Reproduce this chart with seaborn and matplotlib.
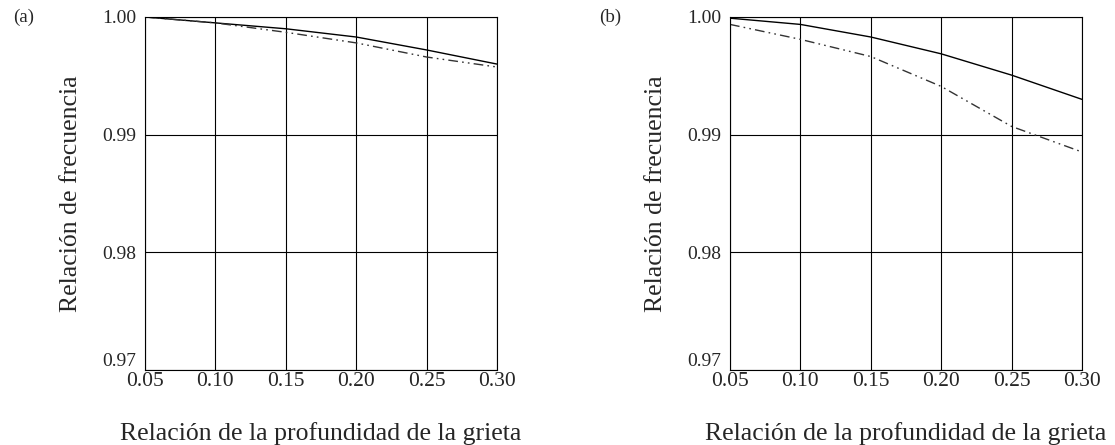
import matplotlib
matplotlib.use("Agg")
import matplotlib.pyplot as plt
import seaborn as sns
import pandas as pd

depth = [0.05, 0.10, 0.15, 0.20, 0.25, 0.30]
a_solid = [1.0000, 0.9995, 0.9990, 0.9983, 0.9972, 0.9960]
a_dash = [1.0000, 0.9995, 0.9987, 0.9978, 0.9966, 0.99575]
b_solid = [0.9999, 0.99937, 0.9983, 0.99687, 0.99506, 0.9930]
b_dash = [0.99937, 0.9981, 0.99664, 0.9941, 0.9907, 0.98853]

yticks = [0.97, 0.98, 0.99, 1.00]
xticks = [0.05, 0.10, 0.15, 0.20, 0.25, 0.30]
panel_labels = ["(a)", "(b)"]
xlabel = "Relación de la profundidad de la grieta"
ylabel = "Relación de frecuencia"

sns.set_style("white")
plt.rcParams['font.family'] = ['Liberation Serif', 'DejaVu Serif']

fig = plt.figure(figsize=(11.15, 4.45), dpi=100)
lefts = [0.130, 0.6547]
data = [(a_solid, a_dash), (b_solid, b_dash)]
for i, (left, (s, d)) in enumerate(zip(lefts, data)):
    ax = fig.add_axes([left, 0.1685, 0.3157, 0.7933])
    df = pd.DataFrame({"x": depth, "solid": s, "dash": d})
    sns.lineplot(data=df, x="x", y="solid", ax=ax, color="black", lw=1.0)
    sns.lineplot(data=df, x="x", y="dash", ax=ax, color="#333333", lw=1.0,
                 dashes=False)
    ax.lines[-1].set_dashes([7, 3, 1.2, 3, 1.2, 3])
    ax.set_xlim(0.05, 0.30)
    ax.set_ylim(0.97, 1.00)
    ax.set_xticks(xticks)
    ax.set_xticklabels([f"{v:.2f}" for v in xticks], fontsize=15.5)
    ax.set_yticks(yticks)
    ax.set_yticklabels([f"{v:.2f}" for v in yticks], fontsize=14)
    ax.tick_params(axis="x", length=0, pad=1.5)
    ax.tick_params(axis="y", length=0, pad=6.5)
    ax.grid(True, color="black", lw=0.8)
    for sp in ax.spines.values():
        sp.set_color("black")
        sp.set_linewidth(0.8)
    ax.set_xlabel(xlabel, fontsize=18.5, labelpad=22)
    ax.set_ylabel(ylabel, fontsize=18.5, labelpad=14)
    ax.get_yticklabels()[0].set_va("bottom")
    fx = 0.012 if i == 0 else 0.537
    fig.text(fx, 0.962, panel_labels[i], fontsize=13.6, va="center", ha="left")

fig.savefig("out.png", dpi=100, facecolor="white")
